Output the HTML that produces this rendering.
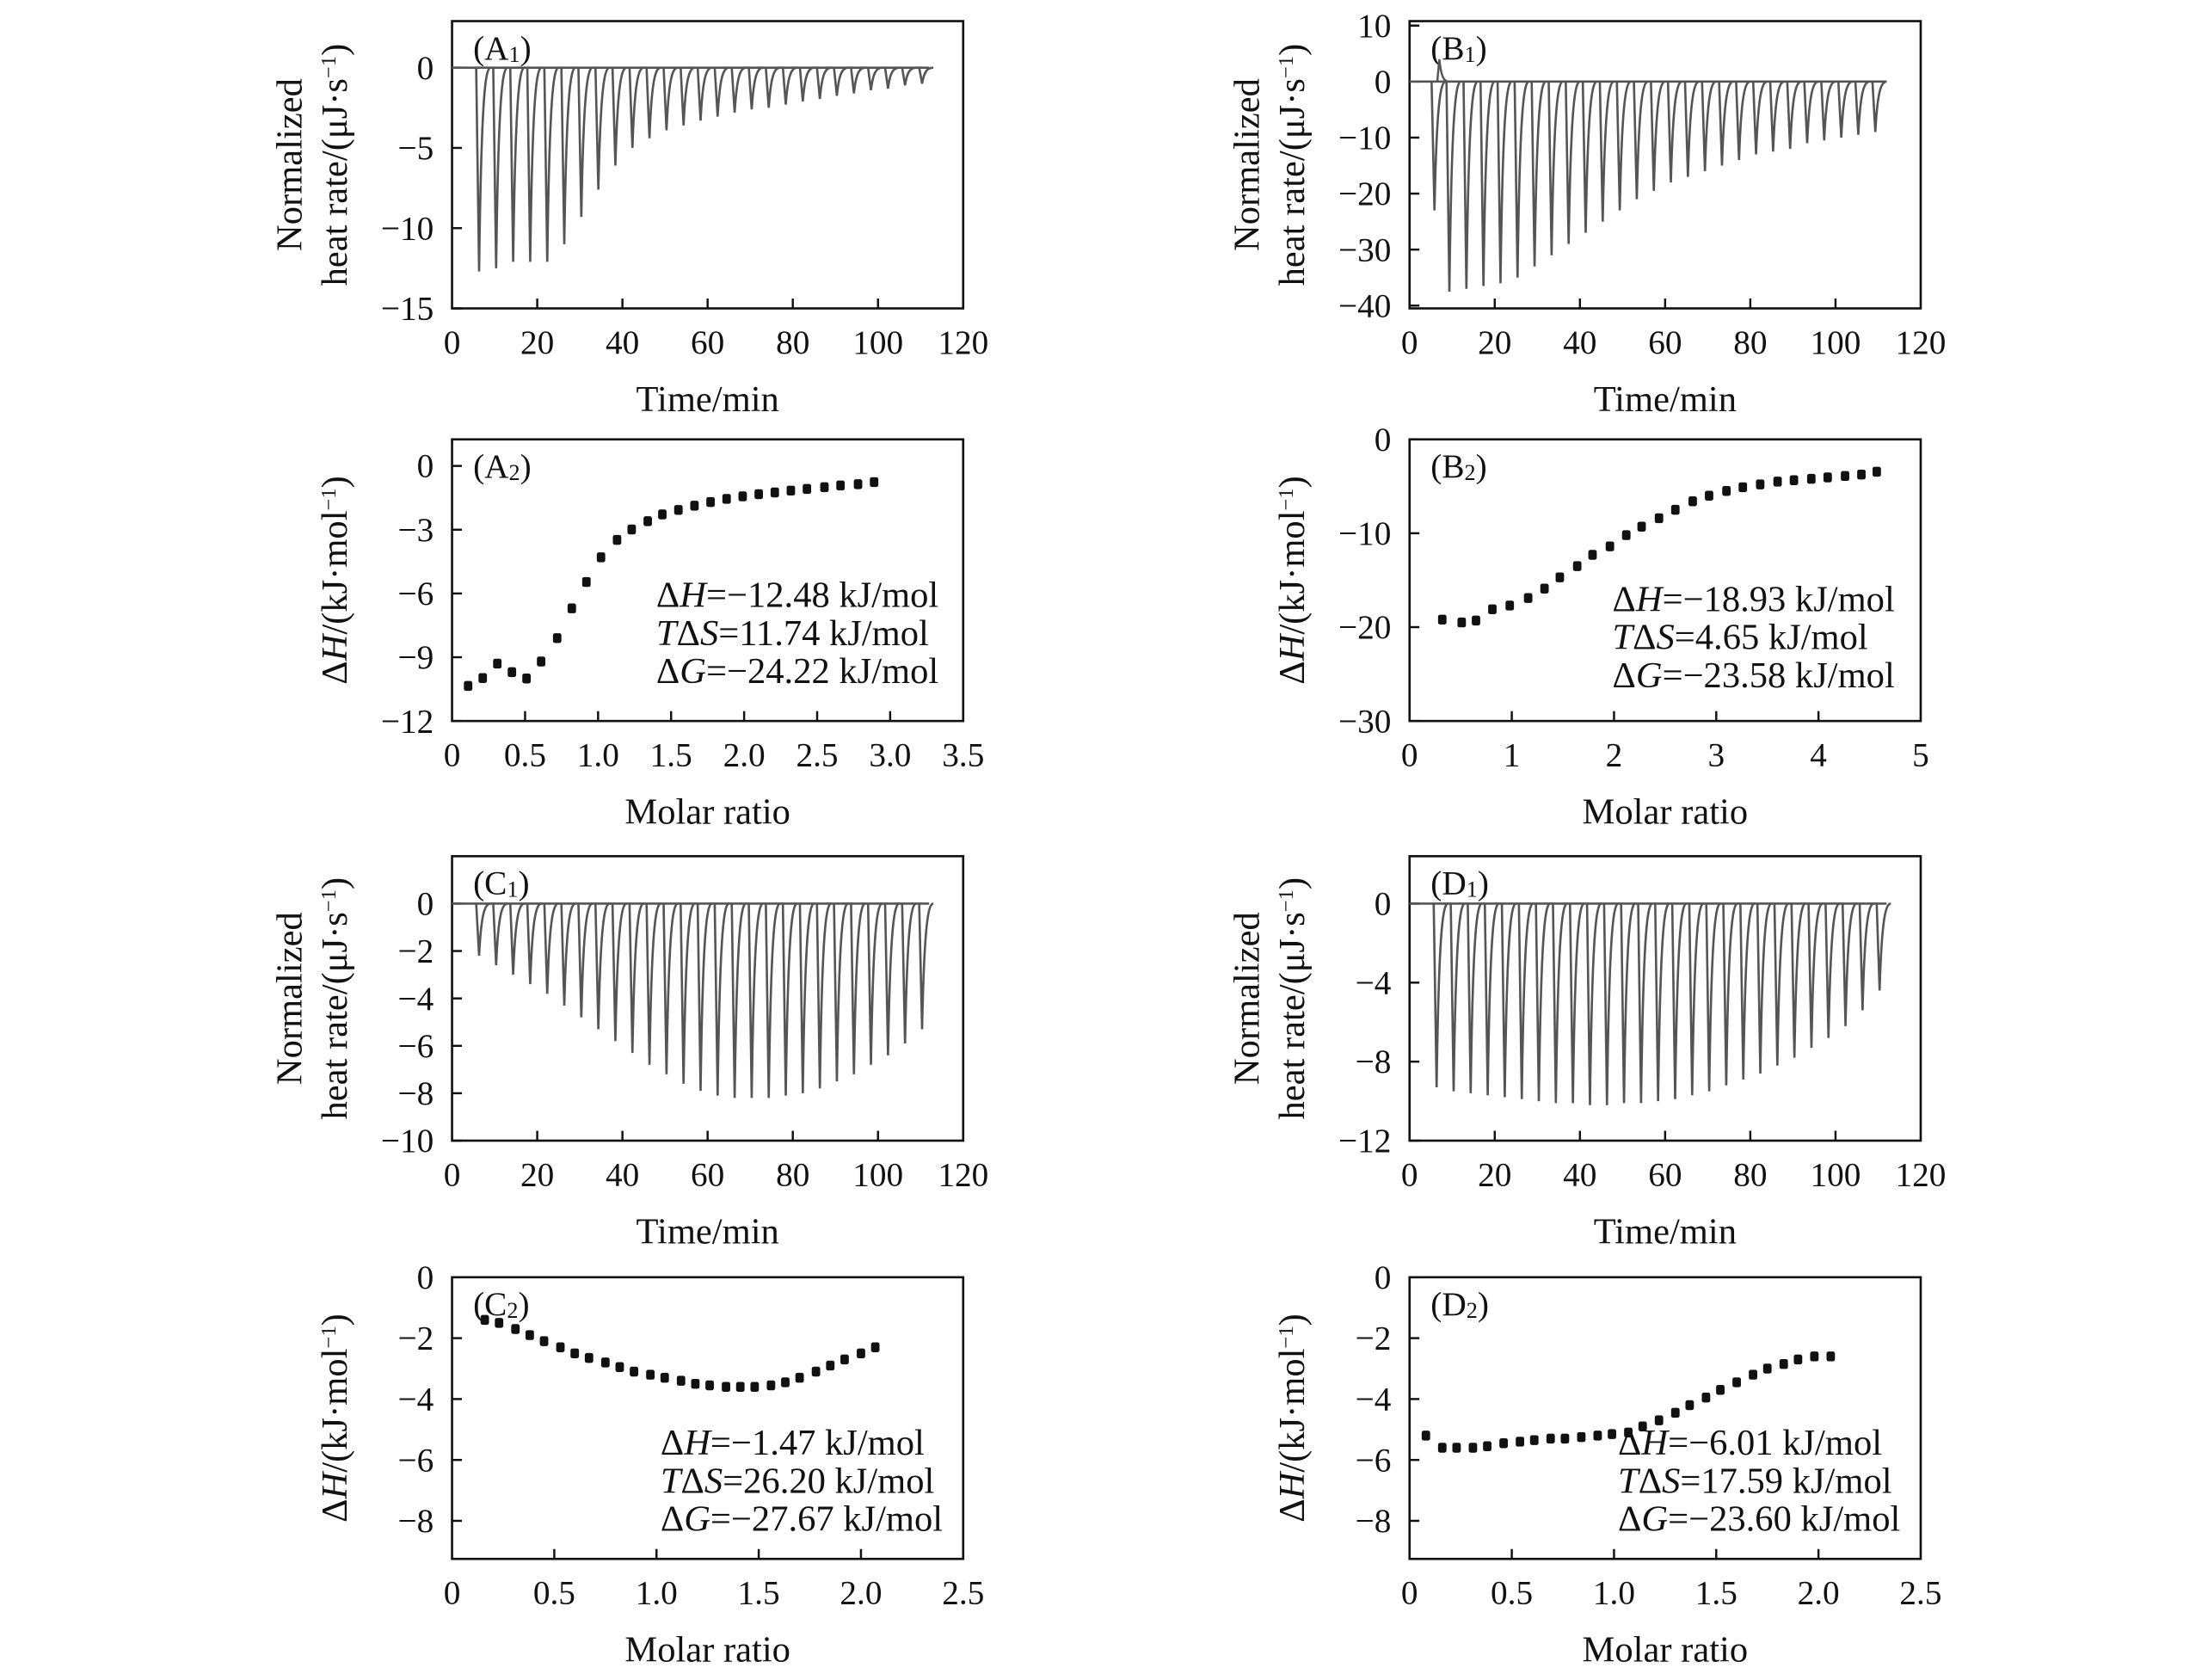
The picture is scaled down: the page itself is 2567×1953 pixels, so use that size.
<!DOCTYPE html>
<html><head><meta charset="utf-8"><style>html,body{margin:0;padding:0;background:#fff}svg{display:block}text{font-family:"Liberation Serif",serif;fill:#111}</style></head>
<body>
<svg id="fig" width="2567" height="1953" viewBox="0 0 1568 1193" xmlns="http://www.w3.org/2000/svg"></svg>
<script>
// ---- data ----
const a1Times = [6,10,14,18,22,26,30,34,38,42,46,50,54,58,62,66,70,74,78,82,86,90,94,98,102,106,110];
const a1Peaks = [-12.7,-12.5,-12.1,-12.1,-12.1,-11.0,-9.3,-7.6,-6.1,-5.0,-4.4,-3.9,-3.6,-3.3,-3.05,-2.8,-2.6,-2.5,-2.3,-2.1,-1.95,-1.75,-1.6,-1.4,-1.3,-1.1,-1.0];
const b1Times = [5.5,9,13,17,21,25,29,33,37,41,45,49,53,57,61,65,69,73,77,81,85,89,93,97,101,105,109];
const b1Peaks = [-23,-37.5,-37,-36.5,-36,-35,-33,-31,-29,-27,-25,-23,-21,-19.5,-18,-17,-16,-15,-14,-13,-12.5,-12,-11,-10.5,-10,-9.5,-9];
const c1Times = [6,10,14,18,22,26,30,34,38,42,46,50,54,58,62,66,70,74,78,82,86,90,94,98,102,106,110];
const c1Peaks = [-2.2,-2.6,-3,-3.4,-3.8,-4.3,-4.8,-5.3,-5.8,-6.3,-6.8,-7.2,-7.6,-7.9,-8.1,-8.2,-8.2,-8.2,-8.1,-8,-7.8,-7.5,-7.2,-6.8,-6.4,-5.9,-5.3];
const d1Times = [6,10,14,18,22,26,30,34,38,42,46,50,54,58,62,66,70,74,78,82,86,90,94,98,102,106,110];
const d1Peaks = [-9.3,-9.5,-9.6,-9.7,-9.8,-9.9,-10,-10.1,-10.1,-10.2,-10.2,-10.1,-10.1,-10,-9.9,-9.7,-9.5,-9.2,-8.9,-8.6,-8.2,-7.8,-7.3,-6.8,-6.2,-5.4,-4.4];
const a2Ratio = [0.11,0.21,0.31,0.41,0.51,0.61,0.72,0.82,0.92,1.02,1.13,1.23,1.34,1.44,1.55,1.66,1.77,1.88,1.99,2.1,2.21,2.32,2.43,2.55,2.66,2.78,2.89];
const a2DH = [-10.35,-9.98,-9.3,-9.7,-10.0,-9.2,-8.1,-6.7,-5.46,-4.3,-3.48,-2.99,-2.6,-2.28,-2.07,-1.87,-1.7,-1.55,-1.43,-1.33,-1.25,-1.16,-1.08,-1.0,-0.92,-0.86,-0.76];
const b2Ratio = [0.32,0.51,0.65,0.81,0.98,1.16,1.32,1.47,1.64,1.79,1.96,2.12,2.27,2.44,2.6,2.77,2.93,3.1,3.26,3.43,3.6,3.76,3.93,4.09,4.26,4.42,4.57];
const b2DH = [-19.2,-19.5,-19.3,-18.1,-17.7,-16.9,-15.9,-14.7,-13.5,-12.3,-11.4,-10.2,-9.3,-8.4,-7.5,-6.6,-6.0,-5.5,-5.1,-4.8,-4.5,-4.35,-4.2,-4.05,-3.9,-3.75,-3.45];
const c2Ratio = [0.16,0.23,0.31,0.38,0.45,0.53,0.6,0.67,0.75,0.82,0.89,0.97,1.04,1.12,1.19,1.26,1.34,1.41,1.48,1.56,1.63,1.7,1.78,1.85,1.92,2.0,2.07];
const c2DH = [-1.4,-1.5,-1.7,-1.9,-2.1,-2.3,-2.5,-2.65,-2.8,-2.95,-3.1,-3.2,-3.3,-3.4,-3.5,-3.55,-3.6,-3.6,-3.6,-3.55,-3.45,-3.3,-3.1,-2.9,-2.7,-2.5,-2.3];
const d2Ratio = [0.08,0.16,0.23,0.31,0.38,0.46,0.54,0.61,0.69,0.76,0.84,0.92,0.99,1.07,1.14,1.22,1.3,1.37,1.45,1.52,1.6,1.68,1.75,1.83,1.9,1.98,2.06];
const d2DH = [-5.2,-5.6,-5.6,-5.6,-5.55,-5.45,-5.4,-5.35,-5.3,-5.3,-5.25,-5.2,-5.15,-5.1,-4.9,-4.7,-4.45,-4.2,-3.95,-3.7,-3.45,-3.2,-3.0,-2.85,-2.7,-2.6,-2.6];
const timeTicks = [0,20,40,60,80,100,120];

const NS="http://www.w3.org/2000/svg";
const svg=document.getElementById('fig');
function mk(tag,attrs,parent){const e=document.createElementNS(NS,tag);for(const k in attrs)e.setAttribute(k,attrs[k]);(parent||svg).appendChild(e);return e;}
function txt(s,x,y,size,anchor,parent,rot){const t=mk('text',{x:x,y:y,'font-size':size,'text-anchor':anchor||'middle'},parent);if(rot)t.setAttribute('transform','rotate(-90 '+x+' '+y+')');t.innerHTML=s;return t;}

function panel(cfg){
  const g=mk('g',{});
  
  
  const L=cfg.L,R=L+363,T=cfg.T,B=cfg.B;
  const sx=v=>L+(v-cfg.x0)/(cfg.x1-cfg.x0)*(R-L);
  const sy=v=>T+(cfg.y1-v)/(cfg.y1-cfg.y0)*(B-T);
  const box=mk('rect',{x:L,y:T,width:R-L,height:B-T,fill:'none',stroke:'#111','stroke-width':1.6},g);
  
  
  cfg.xt.forEach((v,i)=>{const x=sx(v);
    if(i>0&&i<cfg.xt.length-1){const tk=mk('line',{x1:x,x2:x,y1:B,y2:B-7,stroke:'#111','stroke-width':1.5},g);}
    const t=txt(cfg.xl[i],x,B+32,24,'middle',g);});
  cfg.yt.forEach((v,i)=>{const y=sy(v);
    const tk=mk('line',{x1:L,x2:L+7,y1:y,y2:y,stroke:'#111','stroke-width':1.5},g);
    const t=txt(cfg.yl[i],L-13,y+8,24,'end',g);});
  const xt=txt(cfg.xtitle,(L+R)/2,B+73,26,'middle',g);
  if(cfg.ytitle2){
    const y1=txt(cfg.ytitle,L-107,(T+B)/2,26,'middle',g,true);
    const y2=txt(cfg.ytitle2,L-75,(T+B)/2,26,'middle',g,true);
  } else {
    const y1=txt(cfg.ytitle,L-75,(T+B)/2,26,'middle',g,true);
  }
  const lab=txt(cfg.label,L+15,T+27,24,'start',g);
  return {g,sx,sy,L,R,T,B};
}

function thermogram(p,times,peaks,endT,spike){
  const base=p.sy(0);
  const bl=mk('line',{x1:p.sx(0),x2:p.sx(endT),y1:base,y2:base,stroke:'#555','stroke-width':1.6},p.g);
  
  
  times.forEach((t,i)=>{
    const x0=p.sx(t),x1=p.sx(t+0.35),yd=p.sy(peaks[i]),x2=p.sx(t+3);
    const pk=mk('path',{d:`M${x0-1},${base} L${x1},${yd} C${x1+1.5},${base-(base-yd)*0.2} ${x1+4},${base} ${x2},${base}`,fill:'none',stroke:'#555','stroke-width':1.6},p.g);
    
    
  });
  if(spike){const s=mk('path',{d:`M${p.sx(spike[0])},${base} L${p.sx(spike[0]+0.5)},${p.sy(spike[1])} C${p.sx(spike[0]+1)},${base} ${p.sx(spike[0]+2)},${base} ${p.sx(spike[0]+3)},${base}`,fill:'none',stroke:'#555','stroke-width':1.5},p.g);
    }
}
function dots(p,xs,ys){
  xs.forEach((v,i)=>{const d=mk('rect',{x:p.sx(v)-3,y:p.sy(ys[i])-3.5,width:6,height:7,rx:1.5,fill:'#111'},p.g);
    });
}
function annot(p,x,y,lines){
  lines.forEach((s,i)=>{const t=txt(s,x,y+i*27,26,'start',p.g);});
}
const HR='heat rate/(μJ·s<tspan baseline-shift="super" font-size="15">−1</tspan>)';
const DHT='Δ<tspan font-style="italic">H</tspan>/(kJ·mol<tspan baseline-shift="super" font-size="15">−1</tspan>)';
const sub=n=>'<tspan font-size="16" baseline-shift="-2">'+n+'</tspan>';
const tl=timeTicks.map(String);

// A1
let p=panel({name:'panel-a1',L:321,T:15,B:219,x0:0,x1:120,y0:-15,y1:2.9,xt:timeTicks,xl:tl,yt:[0,-5,-10,-15],yl:['0','−5','−10','−15'],xtitle:'Time/min',ytitle:'Normalized',ytitle2:HR,label:'(A'+sub(1)+')'});
thermogram(p,a1Times,a1Peaks,112);
// B1
p=panel({name:'panel-b1',L:1001,T:15,B:219,x0:0,x1:120,y0:-40.5,y1:10.8,xt:timeTicks,xl:tl,yt:[10,0,-10,-20,-30,-40],yl:['10','0','−10','−20','−30','−40'],xtitle:'Time/min',ytitle:'Normalized',ytitle2:HR,label:'(B'+sub(1)+')'});
thermogram(p,b1Times,b1Peaks,112,[6.5,4]);
// A2
p=panel({name:'panel-a2',L:321,T:312,B:512,x0:0,x1:3.5,y0:-12,y1:1.25,xt:[0,0.5,1,1.5,2,2.5,3,3.5],xl:['0','0.5','1.0','1.5','2.0','2.5','3.0','3.5'],yt:[0,-3,-6,-9,-12],yl:['0','−3','−6','−9','−12'],xtitle:'Molar ratio',ytitle:DHT,label:'(A'+sub(2)+')'});
dots(p,a2Ratio,a2DH);
annot(p,466,431,['Δ<tspan font-style="italic">H</tspan>=−12.48 kJ/mol','<tspan font-style="italic">T</tspan>Δ<tspan font-style="italic">S</tspan>=11.74 kJ/mol','Δ<tspan font-style="italic">G</tspan>=−24.22 kJ/mol']);
// B2
p=panel({name:'panel-b2',L:1001,T:312,B:512,x0:0,x1:5,y0:-30,y1:0,xt:[0,1,2,3,4,5],xl:['0','1','2','3','4','5'],yt:[0,-10,-20,-30],yl:['0','−10','−20','−30'],xtitle:'Molar ratio',ytitle:DHT,label:'(B'+sub(2)+')'});
dots(p,b2Ratio,b2DH);
annot(p,1145,434,['Δ<tspan font-style="italic">H</tspan>=−18.93 kJ/mol','<tspan font-style="italic">T</tspan>Δ<tspan font-style="italic">S</tspan>=4.65 kJ/mol','Δ<tspan font-style="italic">G</tspan>=−23.58 kJ/mol']);
// C1
p=panel({name:'panel-c1',L:321,T:608,B:810,x0:0,x1:120,y0:-10,y1:2,xt:timeTicks,xl:tl,yt:[0,-2,-4,-6,-8,-10],yl:['0','−2','−4','−6','−8','−10'],xtitle:'Time/min',ytitle:'Normalized',ytitle2:HR,label:'(C'+sub(1)+')'});
thermogram(p,c1Times,c1Peaks,112);
// D1
p=panel({name:'panel-d1',L:1001,T:608,B:810,x0:0,x1:120,y0:-12,y1:2.4,xt:timeTicks,xl:tl,yt:[0,-4,-8,-12],yl:['0','−4','−8','−12'],xtitle:'Time/min',ytitle:'Normalized',ytitle2:HR,label:'(D'+sub(1)+')'});
thermogram(p,d1Times,d1Peaks,112);
// C2
p=panel({name:'panel-c2',L:321,T:907,B:1107,x0:0,x1:2.5,y0:-9.25,y1:0,xt:[0,0.5,1,1.5,2,2.5],xl:['0','0.5','1.0','1.5','2.0','2.5'],yt:[0,-2,-4,-6,-8],yl:['0','−2','−4','−6','−8'],xtitle:'Molar ratio',ytitle:DHT,label:'(C'+sub(2)+')'});
dots(p,c2Ratio,c2DH);
annot(p,469,1033,['Δ<tspan font-style="italic">H</tspan>=−1.47 kJ/mol','<tspan font-style="italic">T</tspan>Δ<tspan font-style="italic">S</tspan>=26.20 kJ/mol','Δ<tspan font-style="italic">G</tspan>=−27.67 kJ/mol']);
// D2
p=panel({name:'panel-d2',L:1001,T:907,B:1107,x0:0,x1:2.5,y0:-9.25,y1:0,xt:[0,0.5,1,1.5,2,2.5],xl:['0','0.5','1.0','1.5','2.0','2.5'],yt:[0,-2,-4,-6,-8],yl:['0','−2','−4','−6','−8'],xtitle:'Molar ratio',ytitle:DHT,label:'(D'+sub(2)+')'});
dots(p,d2Ratio,d2DH);
annot(p,1149,1033,['Δ<tspan font-style="italic">H</tspan>=−6.01 kJ/mol','<tspan font-style="italic">T</tspan>Δ<tspan font-style="italic">S</tspan>=17.59 kJ/mol','Δ<tspan font-style="italic">G</tspan>=−23.60 kJ/mol']);
</script>
</body></html>
